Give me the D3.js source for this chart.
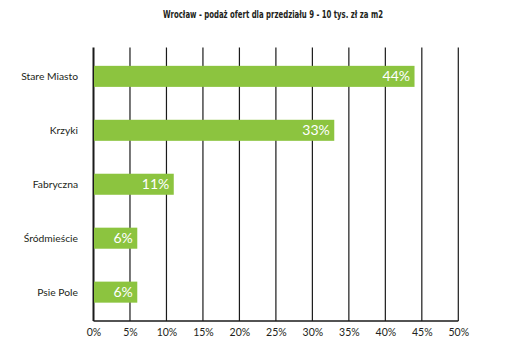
<!DOCTYPE html>
<html>
<head>
<meta charset="utf-8">
<script src="https://cdn.jsdelivr.net/npm/d3@7"></script>
<style>
  html, body { margin: 0; padding: 0; background: #fff; }
  svg { display: block; }
</style>
</head>
<body>
<div id="chart"></div>
<script>
const title = "Wrocław - podaż ofert dla przedziału 9 - 10 tys. zł za m2";
const categories = ["Stare Miasto", "Krzyki", "Fabryczna", "Śródmieście", "Psie Pole"];
const values = [44, 33, 11, 6, 6];
const tickValues = [0, 5, 10, 15, 20, 25, 30, 35, 40, 45, 50];

const W = 527, H = 359;
const margin = { left: 93.5, right: 527 - 458.3, top: 47.5, bottom: 359 - 321 };
const FONT = "Lato, 'Open Sans', sans-serif";

const svg = d3.select("#chart").append("svg")
  .attr("width", W).attr("height", H);

const x = d3.scaleLinear().domain([0, 50]).range([margin.left, W - margin.right]);
const y = d3.scaleBand().domain(categories)
  .range([margin.top, H - margin.bottom])
  .paddingInner(0.61).paddingOuter(0.34);

// title
svg.append("text")
  .attr("x", 163).attr("y", 17.5)
  .attr("font-family", "'Liberation Sans Narrow', 'DejaVu Sans Condensed', sans-serif")
  .attr("font-weight", "bold")
  .attr("font-size", 10.5)
  .attr("textLength", 220)
  .attr("lengthAdjust", "spacingAndGlyphs")
  .attr("fill", "#231f20")
  .text(title);

// vertical gridlines
svg.append("g").selectAll("line").data(tickValues).join("line")
  .attr("x1", d => x(d)).attr("x2", d => x(d))
  .attr("y1", margin.top).attr("y2", H - margin.bottom)
  .attr("stroke", "#1a1a1a")
  .attr("stroke-width", d => d === 0 ? 2 : 1.2);

// bottom line
svg.append("line")
  .attr("x1", x(0)).attr("x2", x(50))
  .attr("y1", H - margin.bottom).attr("y2", H - margin.bottom)
  .attr("stroke", "#1a1a1a").attr("stroke-width", 1.5);

// bars
svg.append("g").selectAll("rect").data(categories).join("rect")
  .attr("x", x(0) + 0.5)
  .attr("y", d => y(d))
  .attr("width", (d, i) => x(values[i]) - x(0) - 0.5)
  .attr("height", y.bandwidth())
  .attr("fill", "#8cc43f");

// value labels
svg.append("g").selectAll("text").data(categories).join("text")
  .attr("x", (d, i) => x(values[i]) - 4.5)
  .attr("y", d => y(d) + y.bandwidth() / 2 + 5)
  .attr("text-anchor", "end")
  .attr("font-family", FONT)
  .attr("font-size", 14)
  .attr("fill", "#ffffff")
  .text((d, i) => values[i] + "%");

// category labels
svg.append("g").selectAll("text").data(categories).join("text")
  .attr("x", 78)
  .attr("y", d => y(d) + y.bandwidth() / 2 + 4)
  .attr("text-anchor", "end")
  .attr("font-family", FONT)
  .attr("font-size", 10.3)
  .attr("fill", "#231f20")
  .text(d => d);

// x tick labels
const xAxis = d3.axisBottom(x).tickValues(tickValues).tickSize(0).tickPadding(8)
  .tickFormat(d => d + "%");
const gx = svg.append("g").attr("transform", `translate(0,${H - margin.bottom})`).call(xAxis);
gx.select(".domain").remove();
gx.selectAll("text")
  .attr("font-family", FONT)
  .attr("font-size", 10.5)
  .attr("fill", "#231f20");
</script>
</body>
</html>
